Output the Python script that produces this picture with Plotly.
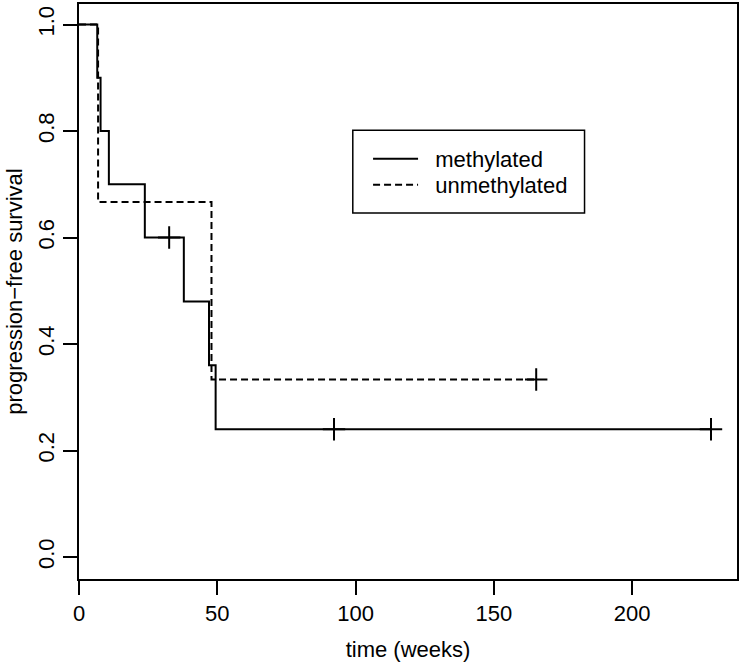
import plotly.graph_objects as go

# ---- data (Kaplan-Meier estimates) ----
meth_step_times = [0, 6.6, 7.8, 10.8, 23.8, 37.9, 47.0, 49.4, 228.5]
meth_step_surv = [1.0, 0.9, 0.8, 0.7, 0.6, 0.48, 0.36, 0.24, 0.24]
meth_censor_times = [32.6, 92.2, 228.5]
meth_censor_surv = [0.6, 0.24, 0.24]

unmeth_step_times = [0, 6.9, 47.9, 165.3]
unmeth_step_surv = [1.0, 0.6667, 0.3333, 0.3333]
unmeth_censor_times = [165.3]
unmeth_censor_surv = [0.3333]

x_ticks = [0, 50, 100, 150, 200]
y_ticks = [0.0, 0.2, 0.4, 0.6, 0.8, 1.0]
y_tick_text = ["0.0", "0.2", "0.4", "0.6", "0.8", "1.0"]

FONT = "Liberation Sans, Arial, Helvetica, sans-serif"
W = 2
NB = "\u00a0\u00a0"

fig = go.Figure()
fig.add_trace(go.Scatter(
    x=meth_step_times, y=meth_step_surv, mode="lines", line_shape="hv",
    line=dict(color="black", width=W), name=NB + "methylated", legend="legend"))
fig.add_trace(go.Scatter(
    x=unmeth_step_times, y=unmeth_step_surv, mode="lines", line_shape="hv",
    line=dict(color="black", width=W, dash="7px,4px"), name=NB + "unmethylated",
    legend="legend2"))
fig.add_trace(go.Scatter(
    x=meth_censor_times, y=meth_censor_surv, mode="markers", showlegend=False,
    marker=dict(symbol="cross-thin", size=16, line=dict(color="black", width=W))))
fig.add_trace(go.Scatter(
    x=unmeth_censor_times, y=unmeth_censor_surv, mode="markers", showlegend=False,
    marker=dict(symbol="cross-thin", size=16, line=dict(color="black", width=W))))

axis_common = dict(showgrid=False, zeroline=False, showline=True, mirror=True,
                   linecolor="black", linewidth=1.5, ticks="outside", ticklen=14,
                   tickwidth=1.5, tickcolor="black", automargin=False,
                   tickfont=dict(family=FONT, size=22, color="black"))

fig.update_xaxes(range=[0, 237.9], tickvals=x_ticks,
                 title=dict(text="time (weeks)", font=dict(family=FONT, size=22, color="black"),
                            standoff=16),
                 **axis_common)
fig.update_yaxes(range=[-0.0413, 1.0387], tickvals=y_ticks, ticktext=y_tick_text,
                 tickangle=-90,
                 title=dict(text="progression\u2212free survival",
                            font=dict(family=FONT, size=22, color="black"), standoff=6),
                 **axis_common)

leg_common = dict(xanchor="left", yanchor="middle", bgcolor="rgba(0,0,0,0)",
                  borderwidth=0, itemwidth=45,
                  font=dict(family=FONT, size=22, color="black"))

fig.update_layout(
    width=740, height=665,
    margin=dict(l=79, r=3, t=4, b=86),
    plot_bgcolor="white", paper_bgcolor="white",
    font=dict(family=FONT, size=22, color="black"),
    legend=dict(x=0.4393, y=0.7304, **leg_common),
    legend2=dict(x=0.4393, y=0.6852, **leg_common),
    shapes=[dict(type="rect", xref="paper", yref="paper",
                 x0=0.4161, x1=0.7683, y0=0.6365, y1=0.7803,
                 line=dict(color="black", width=1.5), fillcolor="white", layer="below")],
)

fig.write_html("out.html", config={"displayModeBar": False},
               post_script="document.body.style.margin='0';document.body.style.overflow='hidden';")
